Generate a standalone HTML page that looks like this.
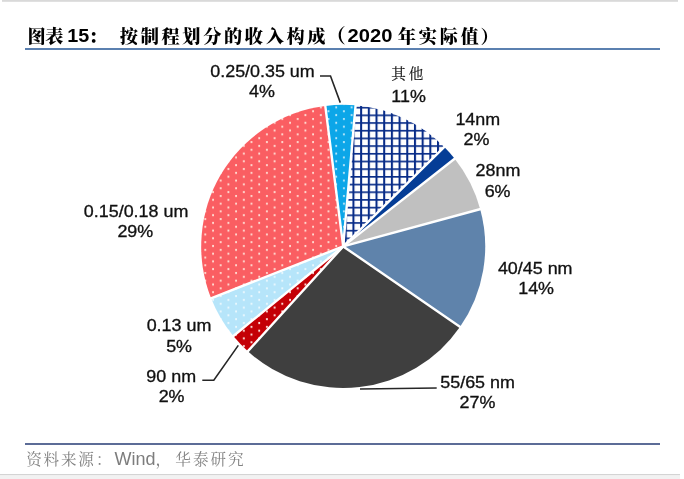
<!DOCTYPE html>
<html lang="zh"><head><meta charset="utf-8"><title>图表15</title>
<style>
html,body{margin:0;padding:0;background:#fff;}
body{width:684px;height:479px;overflow:hidden;position:relative;}
svg{display:block;position:absolute;left:0;top:0;}
.lab text{font-family:"Liberation Sans",sans-serif;font-size:16px;fill:#111111;stroke:#111111;stroke-width:0.3px;}
.kai{font-family:"Liberation Serif","Noto Serif CJK SC",serif;}
.ttl{font-family:"Liberation Sans","Noto Serif CJK SC",serif;font-weight:900;fill:#000;}
</style></head><body>
<svg width="684" height="479" viewBox="0 0 684 479">
<defs>
<pattern id="grid" patternUnits="userSpaceOnUse" x="360.12" y="137.56" width="7.69" height="7.69">
<rect width="7.69" height="7.69" fill="#ffffff"/>
<rect x="-0.05" y="0" width="2.1" height="7.69" fill="#082C88"/>
<rect x="0" y="-0.1" width="7.69" height="1.75" fill="#082C88"/>
</pattern>
<pattern id="dR" patternUnits="userSpaceOnUse" x="265.90" y="202.65" width="15.40" height="7.70">
<rect width="15.40" height="7.70" fill="#C40006"/>
<rect x="0.15" y="-0.05" width="1.7" height="2.1" fill="#FFECE6" opacity="1"/>
<rect x="7.90" y="3.80" width="1.7" height="2.1" fill="#FFECE6" opacity="1"/>
<rect x="7.90" y="-3.90" width="1.7" height="2.1" fill="#FFECE6" opacity="1"/>
</pattern>
<pattern id="dP" patternUnits="userSpaceOnUse" x="265.90" y="202.65" width="15.40" height="7.70">
<rect width="15.40" height="7.70" fill="#B6E5FA"/>
<rect x="0.15" y="-0.05" width="1.7" height="2.1" fill="#ffffff" opacity="0.75"/>
<rect x="7.90" y="3.80" width="1.7" height="2.1" fill="#ffffff" opacity="0.75"/>
<rect x="7.90" y="-3.90" width="1.7" height="2.1" fill="#ffffff" opacity="0.75"/>
</pattern>
<pattern id="dC" patternUnits="userSpaceOnUse" x="265.90" y="202.65" width="15.40" height="7.70">
<rect width="15.40" height="7.70" fill="#FA5E62"/>
<rect x="0.15" y="-0.05" width="1.7" height="2.1" fill="#FFF0E4" opacity="0.9"/>
<rect x="7.90" y="3.80" width="1.7" height="2.1" fill="#FFF0E4" opacity="0.9"/>
<rect x="7.90" y="-3.90" width="1.7" height="2.1" fill="#FFF0E4" opacity="0.9"/>
</pattern>
<pattern id="dB" patternUnits="userSpaceOnUse" x="265.90" y="202.65" width="15.40" height="7.70">
<rect width="15.40" height="7.70" fill="#0CA6E8"/>
<rect x="0.15" y="-0.05" width="1.7" height="2.1" fill="#ffffff" opacity="0.75"/>
<rect x="7.90" y="3.80" width="1.7" height="2.1" fill="#ffffff" opacity="0.75"/>
<rect x="7.90" y="-3.90" width="1.7" height="2.1" fill="#ffffff" opacity="0.75"/>
</pattern>
</defs>
<rect x="0" y="0" width="684" height="479" fill="#ffffff"/>
<rect x="2" y="0" width="676" height="1.8" fill="#d9d9d9"/>
<rect x="0" y="474" width="680" height="1.4" fill="#d4d4d4"/>
<rect x="0" y="475.4" width="680" height="3.6" fill="#f2f2f2"/>
<g class="ttl" font-size="18.2">
<text x="27.6" y="42.6" letter-spacing="-0.5">图表</text>
<text transform="translate(67.2,42.3) scale(1.07,1)" font-size="18.5" font-family="Liberation Sans, sans-serif">15</text>
<text x="88.5" y="42.6">：</text>
<text x="119.8" y="42.8" letter-spacing="2.65">按制程划分的收入构成</text>
<text x="326.3" y="42.8" font-size="19.5">（</text>
<text transform="translate(347.6,42.3) scale(1.09,1)" font-size="18.5" font-family="Liberation Sans, sans-serif">2020</text>
<text x="397.8" y="42.8" letter-spacing="2.75">年实际值</text>
<text x="480.5" y="42.8">）</text>
</g>
<rect x="25" y="48" width="635" height="2" fill="#5B80B0"/>
<g>
<path d="M343.20,246.40 L355.58,105.34 A142.0,141.6 0 0 1 444.31,146.98 Z" fill="url(#grid)"/>
<path d="M343.20,246.40 L444.31,146.98 A142.0,141.6 0 0 1 454.72,158.74 Z" fill="#053D96"/>
<path d="M343.20,246.40 L454.72,158.74 A142.0,141.6 0 0 1 480.20,209.15 Z" fill="#C0C0C0"/>
<path d="M343.20,246.40 L480.20,209.15 A142.0,141.6 0 0 1 460.09,326.81 Z" fill="#5F83AB"/>
<path d="M343.20,246.40 L460.09,326.81 A142.0,141.6 0 0 1 247.82,351.30 Z" fill="#3F3F3F"/>
<path d="M343.20,246.40 L247.82,351.30 A142.0,141.6 0 0 1 233.31,336.09 Z" fill="url(#dR)"/>
<path d="M343.20,246.40 L233.31,336.09 A142.0,141.6 0 0 1 211.08,298.30 Z" fill="url(#dP)"/>
<path d="M343.20,246.40 L211.08,298.30 A142.0,141.6 0 0 1 325.28,105.93 Z" fill="url(#dC)"/>
<path d="M343.20,246.40 L325.28,105.93 A142.0,141.6 0 0 1 355.58,105.34 Z" fill="url(#dB)"/>
</g>
<g stroke="#ffffff" stroke-width="2.4" stroke-linecap="round">
<line x1="343.20" y1="246.40" x2="355.71" y2="103.84"/>
<line x1="343.20" y1="246.40" x2="445.38" y2="145.92"/>
<line x1="343.20" y1="246.40" x2="455.89" y2="157.81"/>
<line x1="343.20" y1="246.40" x2="481.65" y2="208.76"/>
<line x1="343.20" y1="246.40" x2="461.32" y2="327.66"/>
<line x1="343.20" y1="246.40" x2="246.81" y2="352.41"/>
<line x1="343.20" y1="246.40" x2="232.15" y2="337.04"/>
<line x1="343.20" y1="246.40" x2="209.69" y2="298.85"/>
<line x1="343.20" y1="246.40" x2="325.09" y2="104.44"/>
</g>
<g fill="none" stroke="#262626" stroke-width="1.6">
<polyline points="320,76 330.5,76 340.3,102.6"/>
<polyline points="360,389 436.7,388"/>
<polyline points="238.3,345.4 213.8,380.3 202.3,380.3"/>
</g>
<g class="lab">
<text transform="translate(262.5,76.7) scale(1.12,1)" text-anchor="middle">0.25/0.35 um</text>
<text transform="translate(262,97.2) scale(1.12,1)" text-anchor="middle">4%</text>
<text transform="translate(408.6,102.0) scale(1.12,1)" text-anchor="middle">11%</text>
<text transform="translate(477.8,124.6) scale(1.12,1)" text-anchor="middle">14nm</text>
<text transform="translate(476.5,145.4) scale(1.12,1)" text-anchor="middle">2%</text>
<text transform="translate(498,176.4) scale(1.12,1)" text-anchor="middle">28nm</text>
<text transform="translate(497.6,197.4) scale(1.12,1)" text-anchor="middle">6%</text>
<text transform="translate(535.2,274.2) scale(1.12,1)" text-anchor="middle">40/45 nm</text>
<text transform="translate(536.1,294.4) scale(1.12,1)" text-anchor="middle">14%</text>
<text transform="translate(477.6,388.1) scale(1.12,1)" text-anchor="middle">55/65 nm</text>
<text transform="translate(477.5,408.2) scale(1.12,1)" text-anchor="middle">27%</text>
<text transform="translate(171.2,381.5) scale(1.12,1)" text-anchor="middle">90 nm</text>
<text transform="translate(171.6,402.1) scale(1.12,1)" text-anchor="middle">2%</text>
<text transform="translate(179,331.4) scale(1.12,1)" text-anchor="middle">0.13 um</text>
<text transform="translate(179.1,351.6) scale(1.12,1)" text-anchor="middle">5%</text>
<text transform="translate(136.1,216.6) scale(1.12,1)" text-anchor="middle">0.15/0.18 um</text>
<text transform="translate(135.3,237.1) scale(1.12,1)" text-anchor="middle">29%</text>
<text class="kai" x="391.3" y="79.4" font-size="14.6" letter-spacing="2.9" style="stroke:#111;stroke-width:0.15px;font-size:14.6px;font-family:'Liberation Serif','Noto Serif CJK SC',serif">其他</text>
</g>
<rect x="25" y="443" width="635" height="2" fill="#5C6C97"/>
<g class="kai" font-size="15.6" fill="#828282">
<text x="26.2" y="465" letter-spacing="1.75">资料来源</text>
<text x="96" y="465">：</text>
<text x="114.6" y="465" font-size="18" fill="#7d7d7d" style="font-family:'Liberation Sans',sans-serif">Wind</text>
<text x="155.5" y="465">，</text>
<text x="175.3" y="465" letter-spacing="2.0">华泰研究</text>
</g>
</svg>
</body></html>
